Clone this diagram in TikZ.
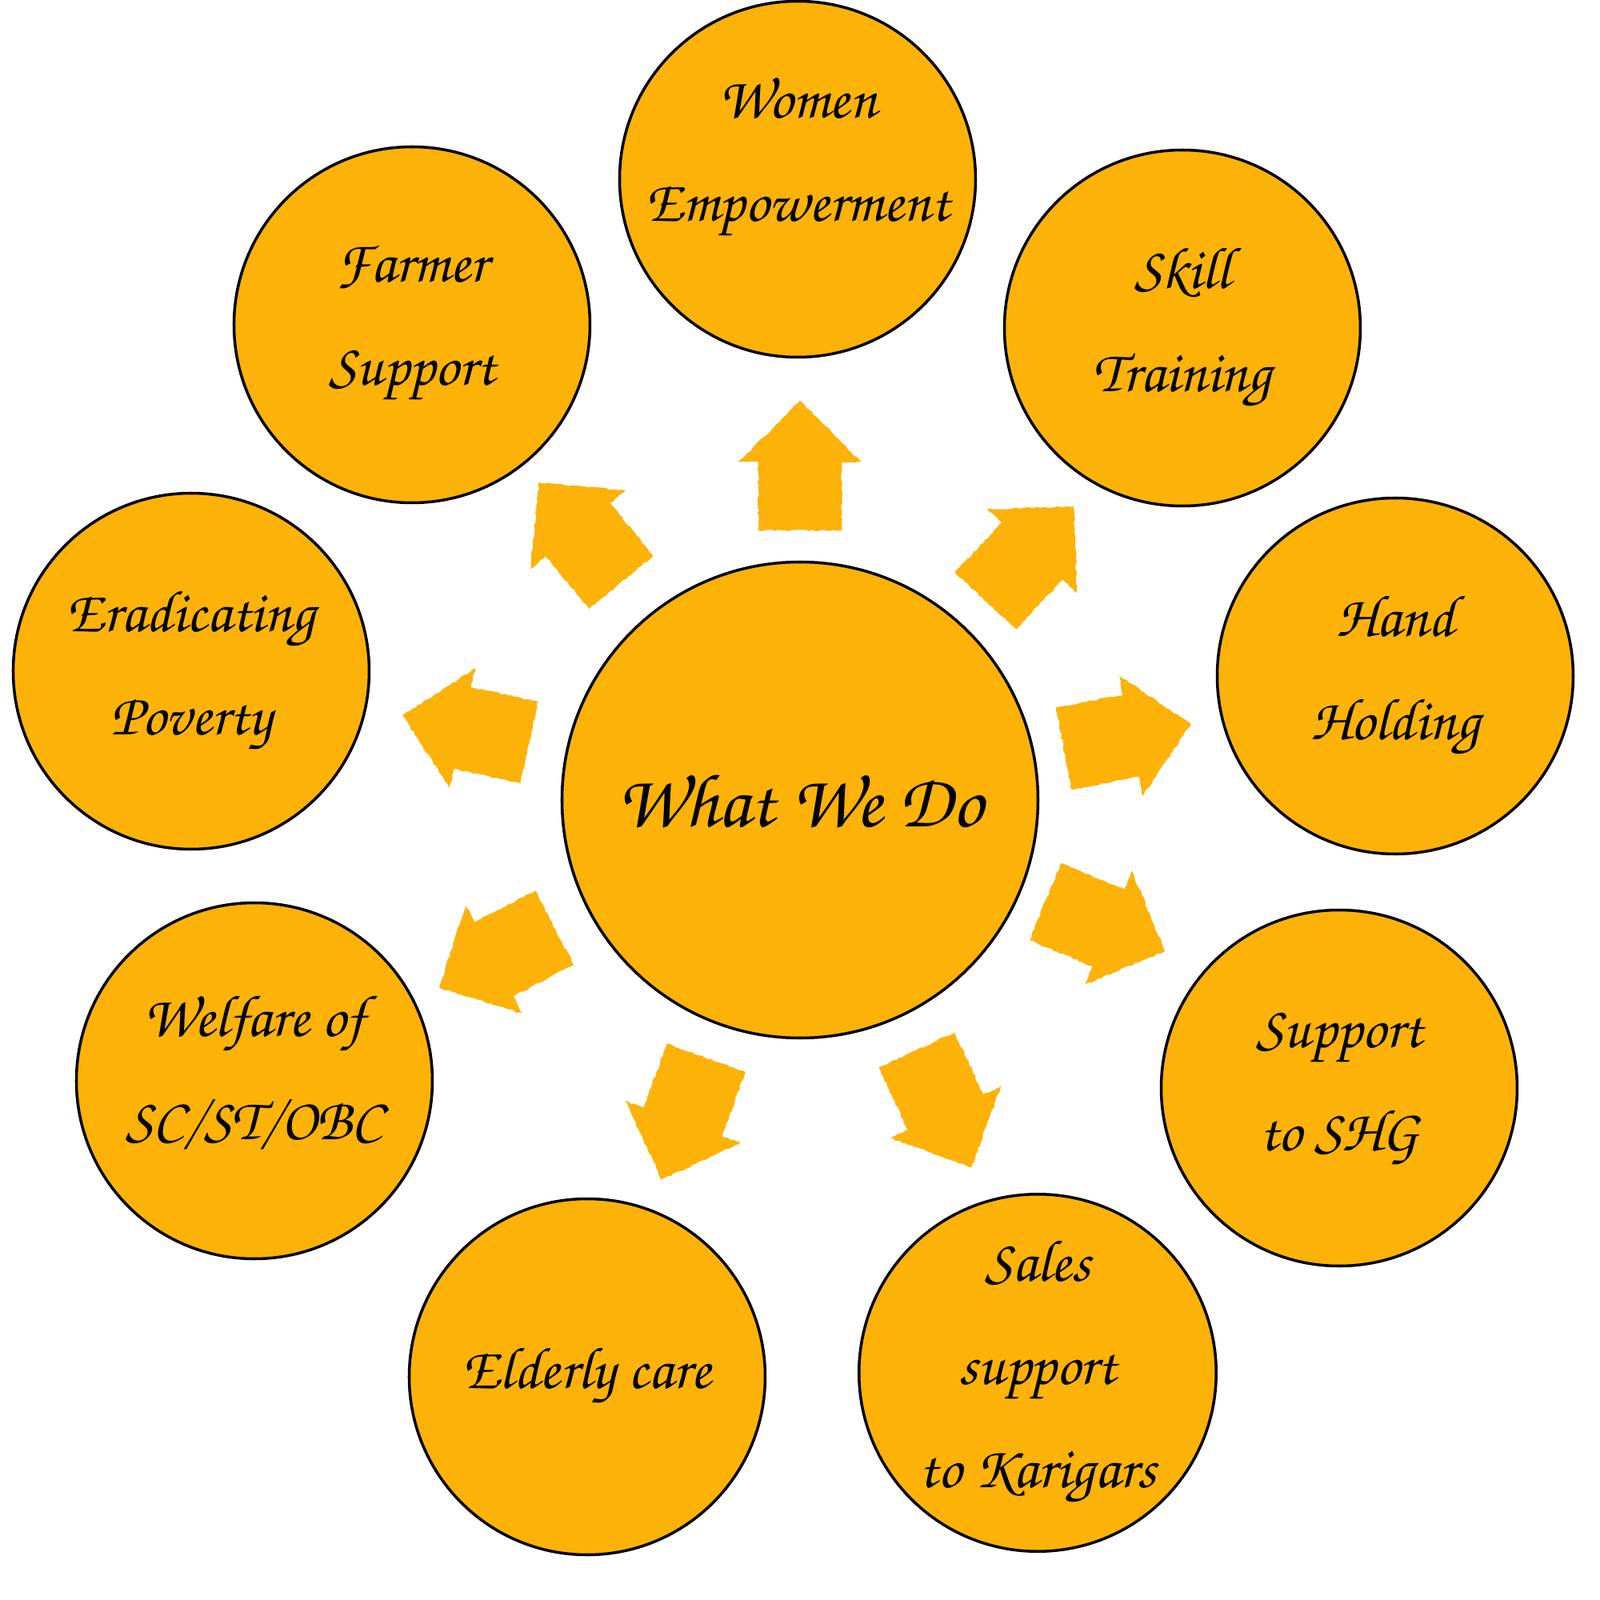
\documentclass[tikz,border=0pt]{standalone}
\usepackage[T1,TU]{fontenc}
\usepackage{tikz}
\usetikzlibrary{shapes, arrows}
\usetikzlibrary{positioning, decorations.pathmorphing}
\definecolor{amber}{RGB}{253,178,8}
\newcommand{\handwriting}{\fontencoding{T1}\fontfamily{pzc}\fontseries{mb}\fontshape{it}\selectfont}
\tikzstyle{words} = [align = center, font = \handwriting\fontsize{21}{36.7}\selectfont]
\tikzstyle{bubble} = [
  words, circle, draw = black, fill = amber, line width = 1pt,
  minimum size = 4.45cm, inner sep = 0
]
\tikzstyle{hub} = [bubble, minimum size = 5.95cm,
  font = \handwriting\fontsize{27}{34}\selectfont]
\tikzstyle{push} = [
  single arrow, fill = amber, inner xsep = 0, inner ysep = 0.515cm,
  minimum height = 1.62cm, minimum width = 1.52cm,
  single arrow head extend = 0.245cm, single arrow tip angle = 90,
  anchor = tip,
  decorate, decoration = {random steps, segment length = 1.2pt, amplitude = 0.3pt}
]

\begin{document}
\begin{tikzpicture}[node distance = 0]
      \useasboundingbox (-10, -10) rectangle (10, 10);
      \node [hub] (hub) at (0, 0) {What We Do};

      \node [bubble] (women) at (-0.03, 7.76) {};
      \node [words] (women-words) at ([yshift = 0.27cm]women) {Women\\Empowerment};
      \node [bubble] (skill) at (4.78, 5.90) {Skill\\Training};
      \node [bubble] (hand) at (7.44, 1.55) {Hand\\Holding};
      \node [bubble] (shg) at (6.74, -3.60) {Support\\to SHG};
      \node [bubble] (karigars) at (2.97, -7.16) {Sales\\support\\to Karigars};
      \node [bubble] (elderly) at (-2.66, -7.21) {Elderly care};
      \node [bubble] (welfare) at (-6.82, -3.51) {};
      \node [words] (welfare-words) at ([yshift = 0.15cm]welfare) {Welfare of\\SC/ST/OBC};
      \node [bubble] (poverty) at (-7.61, 1.61) {Eradicating\\Poverty};
      \node [bubble] (farmer) at (-4.85, 5.94) {Farmer\\Support};

      \node [push, rotate = 90] (push-women) at (90:5.0) {};
      \node [push, rotate = 47] (push-skill) at (47:5.03) {};
      \node [push, rotate = 11] (push-hand) at (11:4.99) {};
      \node [push, rotate = -22.5] (push-shg) at (-22.5:4.95) {};
      \node [push, rotate = -65] (push-karigars) at (-65:5.08) {};
      \node [push, rotate = -110] (push-elderly) at (-110:5.06) {};
      \node [push, rotate = -152.5] (push-welfare) at (-152.5:5.09) {};
      \node [push, rotate = 168] (push-poverty) at (168:5.09) {};
      \node [push, rotate = 129.4] (push-farmer) at (129.4:5.15) {};
    \end{tikzpicture}
\end{document}
